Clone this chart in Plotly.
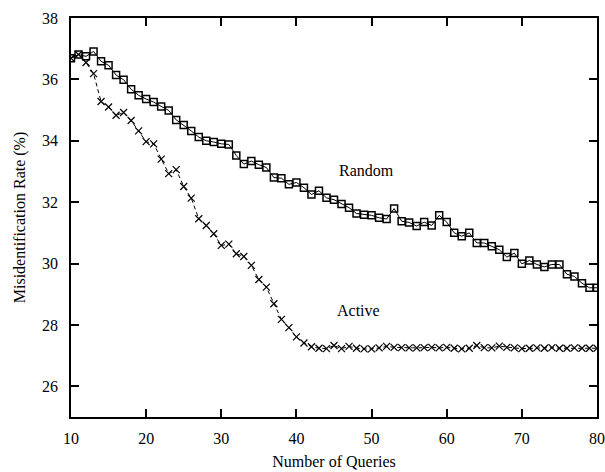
import plotly.graph_objects as go

queries = list(range(10, 81))

random_rate = [
    36.69, 36.81, 36.75, 36.91, 36.59, 36.46, 36.14, 35.99, 35.68, 35.48,
    35.36, 35.26, 35.12, 34.99, 34.68, 34.51, 34.32, 34.12, 34.00, 33.96,
    33.90, 33.88, 33.52, 33.24, 33.34, 33.22, 33.13, 32.80, 32.78, 32.58,
    32.64, 32.47, 32.25, 32.37, 32.14, 32.08, 31.94, 31.82, 31.63, 31.59,
    31.57, 31.49, 31.45, 31.79, 31.38, 31.34, 31.22, 31.35, 31.24, 31.57,
    31.35, 31.00, 30.89, 31.00, 30.67, 30.67, 30.56, 30.45, 30.21, 30.34,
    29.99, 30.10, 29.97, 29.89, 29.97, 29.97, 29.65, 29.58, 29.36, 29.21,
    29.21,
]

active_rate = [
    36.69, 36.81, 36.55, 36.19, 35.28, 35.10, 34.83, 34.92, 34.66, 34.32,
    33.97, 33.90, 33.40, 32.93, 33.06, 32.51, 32.13, 31.46, 31.24, 30.97,
    30.59, 30.63, 30.32, 30.23, 29.94, 29.48, 29.23, 28.69, 28.18, 27.91,
    27.61, 27.41, 27.29, 27.24, 27.23, 27.33, 27.23, 27.30, 27.24, 27.22,
    27.22, 27.25, 27.30, 27.27, 27.26, 27.25, 27.25, 27.26, 27.27, 27.25,
    27.27, 27.24, 27.22, 27.24, 27.33, 27.26, 27.25, 27.31, 27.27, 27.25,
    27.23, 27.24, 27.25, 27.24, 27.26, 27.24, 27.24, 27.25, 27.24, 27.24,
    27.24,
]

x_ticks = [10, 20, 30, 40, 50, 60, 70, 80]
y_ticks = [26, 28, 30, 32, 34, 36, 38]

FONT = "Liberation Serif, Times New Roman, serif"

fig = go.Figure()
fig.add_trace(go.Scatter(
    x=queries, y=random_rate, mode="lines+markers", name="Random",
    line=dict(color="black", width=1),
    marker=dict(symbol="square-open", size=7, color="black", line=dict(width=1.5)),
))
fig.add_trace(go.Scatter(
    x=queries, y=active_rate, mode="lines+markers", name="Active",
    line=dict(color="black", width=1, dash="4px,3px"),
    marker=dict(symbol="x-thin-open", size=7, color="black", line=dict(width=1.2)),
))

fig.add_annotation(x=49.3, y=33.04, text="Random", showarrow=False,
                   font=dict(family=FONT, size=16, color="black"))
fig.add_annotation(x=48.2, y=28.48, text="Active", showarrow=False,
                   font=dict(family=FONT, size=16, color="black"))

axis_common = dict(
    showgrid=False, zeroline=False, showline=True, linecolor="black", linewidth=1.5,
    mirror="ticks", ticks="inside", ticklen=8, tickwidth=1.5, tickcolor="black",
    tickfont=dict(family=FONT, size=16, color="black"),
)

fig.update_xaxes(range=[10, 80], tickvals=x_ticks, ticklabelstandoff=6,
                 title=dict(text="Number of Queries", standoff=10,
                            font=dict(family=FONT, size=16, color="black")),
                 **axis_common)
fig.update_yaxes(range=[25, 38], tickvals=y_ticks, ticklabelstandoff=8,
                 title=dict(text="Misidentification Rate (%)", standoff=12,
                            font=dict(family=FONT, size=16, color="black")),
                 **axis_common)

fig.update_layout(
    width=605, height=472,
    margin=dict(l=71, r=8, t=18, b=55, autoexpand=False),
    plot_bgcolor="white", paper_bgcolor="white",
    showlegend=False,
)

fig.write_html("out.html")
